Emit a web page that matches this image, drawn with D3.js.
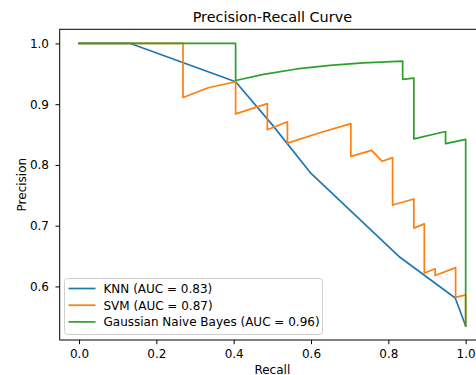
<!DOCTYPE html>
<html>
<head>
<meta charset="utf-8">
<script src="https://cdn.jsdelivr.net/npm/d3@7"></script>
<style>
	html, body { margin: 0; padding: 0; background: #fff; }
	svg { display: block; font-family: "DejaVu Sans", sans-serif; }
</style>
</head>
<body>
<div id="chart"></div>
<script>
// values
var knnRecall    = [0, 0.133, 0.405, 0.5, 0.6, 0.83, 0.973, 1.0];
var knnPrecision = [1.0, 1.0, 0.937, 0.866, 0.786, 0.648, 0.581, 0.535];

var svmRecall    = [0, 0.269, 0.269, 0.334, 0.405, 0.405, 0.487, 0.487, 0.539, 0.539, 0.623, 0.703, 0.703, 0.757, 0.784, 0.811, 0.811, 0.866, 0.866, 0.893, 0.893, 0.921, 0.921, 0.974, 0.974, 1.0, 1.0];
var svmPrecision = [1.0, 1.0, 0.911, 0.927, 0.937, 0.884, 0.901, 0.858, 0.871, 0.836, 0.853, 0.868, 0.814, 0.824, 0.806, 0.812, 0.734, 0.744, 0.696, 0.703, 0.622, 0.629, 0.618, 0.631, 0.582, 0.586, 0.535];

var gnbRecall    = [0, 0.405, 0.405, 0.477, 0.563, 0.649, 0.735, 0.837, 0.837, 0.866, 0.866, 0.948, 0.948, 1.0, 1.0];
var gnbPrecision = [1.0, 1.0, 0.939, 0.949, 0.958, 0.964, 0.968, 0.971, 0.941, 0.943, 0.843, 0.855, 0.835, 0.842, 0.535];

var seriesLabels = ["KNN (AUC = 0.83)", "SVM (AUC = 0.87)", "Gaussian Naive Bayes (AUC = 0.96)"];
var seriesColors = ["#1f77b4", "#ff7f0e", "#2ca02c"];
var xTicks = [0, 0.2, 0.4, 0.6, 0.8, 1.0];
var yTicks = [0.6, 0.7, 0.8, 0.9, 1.0];

var width = 476, height = 375;
var plot = { left: 59.7, right: 485, top: 29.3, bottom: 340 };

var svg = d3.select("#chart").append("svg")
	.attr("width", width)
	.attr("height", height);

var x = d3.scaleLinear().domain([-0.05, 1.05]).range([plot.left, plot.right]);
var y = d3.scaleLinear().domain([0.5118, 1.0233]).range([plot.bottom, plot.top]);

svg.append("defs").append("clipPath")
	.attr("id", "plotclip")
  .append("rect")
	.attr("x", plot.left)
	.attr("y", plot.top)
	.attr("width", plot.right - plot.left)
	.attr("height", plot.bottom - plot.top);

// title
svg.append("text")
	.attr("x", (plot.left + plot.right) / 2)
	.attr("y", 21.5)
	.attr("text-anchor", "middle")
	.style("font-size", "14.4px")
	.style("fill", "#000")
	.text("Precision-Recall Curve");

// axes
var xAxis = d3.axisBottom(x).tickValues(xTicks).tickFormat(d3.format(".1f")).tickSize(4.2).tickPadding(5.5);
var yAxis = d3.axisLeft(y).tickValues(yTicks).tickFormat(d3.format(".1f")).tickSize(4.2).tickPadding(6.5);

var gx = svg.append("g").attr("transform", "translate(0," + plot.bottom + ")").call(xAxis);
var gy = svg.append("g").attr("transform", "translate(" + plot.left + ",0)").call(yAxis);

[gx, gy].forEach(function(g) {
	g.select(".domain").remove();
	g.selectAll(".tick line").attr("stroke", "#000").attr("stroke-width", 1);
	g.selectAll(".tick text").style("font-size", "12px").style("fill", "#000").style("font-family", "DejaVu Sans, sans-serif");
});

svg.append("text")
	.attr("x", (plot.left + plot.right) / 2)
	.attr("y", 373.5)
	.attr("text-anchor", "middle")
	.style("font-size", "12px")
	.text("Recall");

svg.append("text")
	.attr("transform", "translate(25.5," + ((plot.top + plot.bottom) / 2) + ") rotate(-90)")
	.attr("text-anchor", "middle")
	.style("font-size", "12px")
	.text("Precision");

// curves
var series = [
	{ recall: knnRecall, precision: knnPrecision },
	{ recall: svmRecall, precision: svmPrecision },
	{ recall: gnbRecall, precision: gnbPrecision }
];

var line = d3.line()
	.x(function(d) { return x(d[0]); })
	.y(function(d) { return y(d[1]); });

var lines = svg.append("g").attr("clip-path", "url(#plotclip)");

series.forEach(function(s, i) {
	var pts = s.recall.map(function(r, j) { return [r, s.precision[j]]; });
	lines.append("path")
		.datum(pts)
		.attr("d", line)
		.attr("fill", "none")
		.attr("stroke", seriesColors[i])
		.attr("stroke-width", 1.7)
		.attr("stroke-linejoin", "round")
		.attr("stroke-linecap", "square");
});

// spines
svg.append("rect")
	.attr("x", plot.left)
	.attr("y", plot.top)
	.attr("width", plot.right - plot.left)
	.attr("height", plot.bottom - plot.top)
	.attr("fill", "none")
	.attr("stroke", "#000")
	.attr("stroke-width", 1);

// legend
var legend = svg.append("g").attr("transform", "translate(64.5,278.5)");

legend.append("rect")
	.attr("width", 258)
	.attr("height", 56)
	.attr("rx", 3)
	.attr("fill", "#fff")
	.attr("fill-opacity", 0.8)
	.attr("stroke", "#d0d0d0")
	.attr("stroke-width", 1);

seriesLabels.forEach(function(lbl, i) {
	var row = legend.append("g").attr("transform", "translate(0," + (10 + i * 16.7) + ")");
	row.append("line")
		.attr("x1", 4).attr("x2", 31)
		.attr("y1", 0).attr("y2", 0)
		.attr("stroke", seriesColors[i])
		.attr("stroke-width", 1.7);
	row.append("text")
		.attr("x", 39)
		.attr("y", 4.3)
		.style("font-size", "12px")
		.text(lbl);
});
</script>
</body>
</html>
